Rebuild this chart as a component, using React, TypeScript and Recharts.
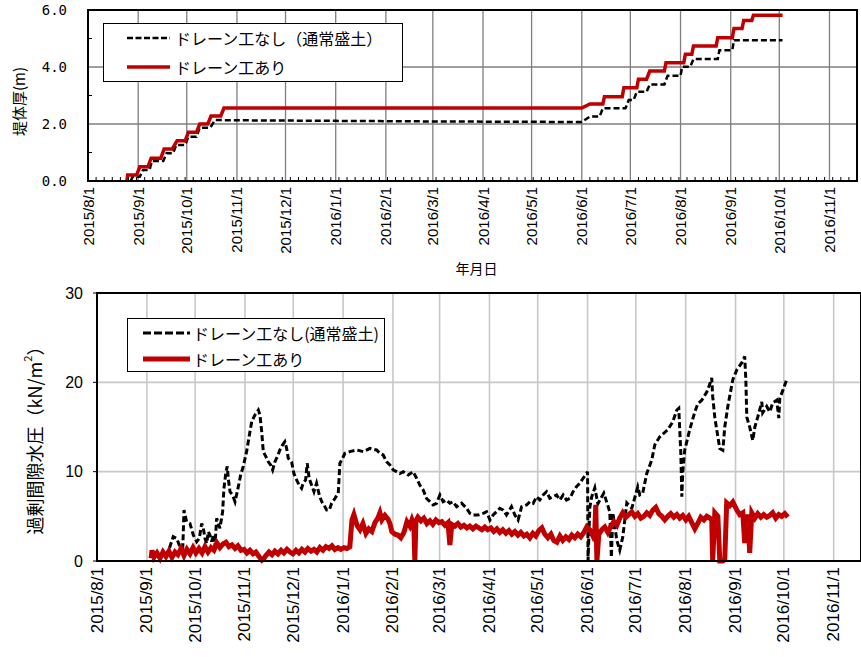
import React from "react";
import { LineChart, Line, XAxis, YAxis, CartesianGrid, Legend, ReferenceArea, Label } from "recharts";

const FONT = '"Liberation Sans", "Noto Sans CJK JP", sans-serif';
const JP = '"Noto Sans CJK JP", "Liberation Sans", sans-serif';
const MONO = '"DejaVu Sans Mono", "Liberation Mono", monospace';

// Month ticks along the date axis (labels as printed)
const monthTicks = [
  "2015/8/1", "2015/9/1", "2015/10/1", "2015/11/1", "2015/12/1", "2016/1/1", "2016/2/1", "2016/3/1",
  "2016/4/1", "2016/5/1", "2016/6/1", "2016/7/1", "2016/8/1", "2016/9/1", "2016/10/1", "2016/11/1",
];
const axisStart = "2015/8/1";
const axisEnd = "2016/11/18";
const minorStepDays = 5;

const seriesNames = ["ドレーン工なし（通常盛土）", "ドレーン工あり"];
const seriesNamesLower = ["ドレーン工なし(通常盛土)", "ドレーン工あり"];
const seriesColors = ["#000000", "#c00000"];

const thicknessTicks = [0, 2, 4, 6];
const thicknessMinorTicks = [1, 3, 5];
const pressureTicks = [0, 10, 20, 30];

// Embankment thickness (m); x = Excel serial date
const thicknessNoDrain: [number, number][] = [
  [42243.5, 0], [42244.5, 0.15], [42249, 0.15], [42251, 0.39], [42255, 0.39], [42256.5, 0.7],
  [42263.5, 0.7], [42265.5, 0.97], [42269.5, 0.97], [42271.5, 1.26], [42277, 1.26], [42279, 1.55],
  [42284, 1.55], [42286, 1.87], [42292.5, 1.87], [42295.5, 2.14], [42309, 2.13], [42370, 2.11],
  [42430, 2.09], [42522, 2.07], [42527, 2.26], [42533, 2.26], [42535, 2.55], [42549, 2.55],
  [42551, 2.84], [42554, 2.84], [42556, 3.13], [42562, 3.13], [42564, 3.39], [42573, 3.39],
  [42575, 3.69], [42583, 3.69], [42584, 4.01], [42589, 4.01], [42591, 4.28], [42606, 4.28],
  [42607, 4.59], [42615, 4.59], [42616, 4.94], [42646, 4.94],
];
const thicknessDrain: [number, number][] = [
  [42241, 0], [42241.5, 0.21], [42247, 0.21], [42249, 0.5], [42254, 0.5], [42256, 0.8],
  [42262, 0.8], [42264, 1.12], [42269, 1.12], [42272, 1.41], [42277, 1.41], [42279, 1.71],
  [42284, 1.71], [42286, 2.0], [42291, 2.0], [42293, 2.28], [42299, 2.28], [42301, 2.56],
  [42522, 2.56], [42527, 2.7], [42535, 2.7], [42536, 2.96], [42547, 2.96], [42548, 3.27],
  [42556, 3.27], [42557, 3.57], [42562, 3.57], [42564, 3.86], [42573, 3.86], [42574, 4.15],
  [42585, 4.15], [42586, 4.45], [42590, 4.45], [42591, 4.74], [42605, 4.74], [42606, 5.03],
  [42615, 5.03], [42616, 5.35], [42621, 5.35], [42622, 5.63], [42627, 5.63], [42628, 5.82],
  [42646, 5.82],
];

// Excess pore water pressure (kN/m2); x = Excel serial date
const pressureNoDrain: [number, number][] = [
  [42259.3, 0.6], [42261.3, 1.04], [42264.4, 2.72], [42266.5, 2.54], [42268.6, 1.6], [42270.3, 1.42],
  [42271.1, 5.7], [42272.7, 4.4], [42274.8, 4.2], [42276.9, 2.9], [42279.0, 2.16], [42280.6, 2.54],
  [42282.1, 4.2], [42283.1, 3.66], [42284.1, 2.54], [42285.2, 1.98], [42286.2, 3.28], [42287.2, 2.9],
  [42288.3, 2.16], [42289.3, 2.9], [42290.3, 1.6], [42291.4, 4.78], [42293.4, 3.66], [42295.1, 5.5],
  [42295.9, 8.1], [42297.2, 10.0], [42298.0, 10.6], [42298.6, 9.26], [42299.7, 7.76], [42301.3, 7.39],
  [42302.8, 6.64], [42304.2, 7.76], [42305.3, 8.7], [42306.3, 9.63], [42307.9, 10.56], [42310.0, 12.24],
  [42312.1, 14.48], [42313.2, 15.6], [42315.2, 16.35], [42317.3, 16.9], [42318.3, 16.35], [42319.4, 14.48],
  [42320.4, 12.24], [42322.0, 11.68], [42323.5, 11.1], [42325.0, 10.75], [42326.2, 10.19], [42327.6, 11.1],
  [42329.1, 11.68], [42330.7, 12.43], [42332.4, 13.0], [42333.8, 13.36], [42334.9, 12.6], [42335.9, 11.5],
  [42338.0, 11.1], [42339.4, 9.8], [42341.1, 9.07], [42342.7, 8.5], [42344.2, 8.14], [42345.2, 8.7],
  [42346.7, 9.07], [42347.7, 10.94], [42348.9, 9.26], [42350.4, 8.5], [42351.9, 7.76], [42353.5, 8.7],
  [42355.2, 7.39], [42356.7, 6.64], [42358.1, 6.27], [42359.8, 5.7], [42361.4, 5.7], [42362.9, 6.46],
  [42364.9, 7.0], [42367.0, 7.6], [42368.0, 10.94], [42369.7, 11.5], [42371.1, 12.06], [42374.2, 12.24],
  [42378.4, 12.43], [42382.5, 12.24], [42386.7, 12.6], [42390.8, 12.43], [42392.9, 12.06], [42394.9, 11.87],
  [42397.1, 11.1], [42399.1, 10.75], [42401.2, 10.19], [42403.3, 10.0], [42405.3, 9.8], [42407.4, 10.0],
  [42410.5, 9.63], [42413.6, 10.0], [42415.7, 9.26], [42417.7, 8.5], [42419.8, 7.95], [42421.9, 7.0],
  [42424.0, 6.64], [42426.0, 6.27], [42428.1, 6.46], [42430.2, 7.39], [42432.2, 6.64], [42434.3, 6.83],
  [42436.4, 6.46], [42438.4, 6.64], [42440.6, 6.08], [42443.7, 6.46], [42446.8, 5.9], [42448.8, 5.34],
  [42450.9, 5.15], [42454.0, 5.15], [42457.1, 5.34], [42459.2, 5.52], [42461.3, 4.59], [42463.3, 5.15],
  [42465.4, 5.52], [42467.5, 5.9], [42469.5, 5.7], [42471.6, 5.15], [42474.7, 6.08], [42476.8, 5.15],
  [42478.8, 4.59], [42481.0, 6.08], [42484.1, 6.27], [42486.1, 6.64], [42488.2, 6.46], [42490.3, 7.2],
  [42492.3, 6.83], [42494.4, 7.39], [42496.5, 7.76], [42498.5, 7.02], [42500.6, 7.2], [42502.7, 7.39],
  [42504.8, 6.83], [42506.8, 7.39], [42508.9, 6.83], [42511.0, 7.02], [42513.0, 7.76], [42515.1, 8.32],
  [42517.2, 8.7], [42519.2, 9.26], [42521.4, 9.8], [42522.0, 10.0], [42522.3, 0.0], [42523.4, 6.0],
  [42524.6, 7.2], [42526.5, 8.2], [42528.4, 6.4], [42529.6, 6.8], [42532.1, 7.6], [42534.6, 6.2],
  [42535.8, 5.5], [42536.8, 0.4], [42537.7, 5.4], [42540.2, 2.3], [42542.0, 1.2], [42543.9, 2.7],
  [42546.4, 6.5], [42549.5, 5.9], [42553.2, 8.3], [42554.5, 7.4], [42556.3, 7.6], [42558.8, 9.8],
  [42561.9, 11.3], [42563.8, 13.0], [42566.9, 13.9], [42569.4, 14.3], [42571.9, 14.7], [42575.0, 15.6],
  [42577.5, 16.9], [42578.7, 17.1], [42580.0, 12.0], [42580.6, 7.2], [42581.2, 10.0], [42582.4, 12.4],
  [42585.5, 14.7], [42588.7, 16.7], [42590.5, 17.6], [42593.0, 18.0], [42596.1, 18.9], [42598.0, 19.8],
  [42599.2, 20.5], [42599.8, 18.4], [42601.1, 16.1], [42602.3, 14.7], [42604.2, 12.6], [42606.1, 12.4],
  [42607.3, 15.0], [42609.2, 17.3], [42612.3, 20.3], [42614.8, 21.4], [42617.9, 22.2], [42619.7, 22.9],
  [42620.4, 20.3], [42621.0, 16.1], [42622.8, 15.0], [42624.7, 13.5], [42626.0, 15.0], [42627.8, 16.1],
  [42630.3, 17.8], [42630.9, 16.6], [42633.4, 17.3], [42635.3, 16.7], [42637.1, 17.7], [42639.6, 18.0],
  [42640.9, 16.0], [42641.5, 18.2], [42643.4, 19.1], [42645.8, 20.3],
];
const pressureDrain: [number, number][] = [
  [42250.6, 0.3], [42251.2, 1.2], [42252.4, 0.4], [42254.3, 0.9], [42256.2, 0.3], [42258.0, 1.0],
  [42259.9, 0.5], [42261.7, 1.1], [42263.6, 0.4], [42265.5, 1.0], [42267.3, 0.7], [42269.2, 1.4],
  [42271.1, 0.6], [42272.9, 1.3], [42274.8, 0.8], [42276.7, 1.5], [42278.5, 0.9], [42280.4, 1.4],
  [42282.3, 0.9], [42284.1, 1.6], [42286.0, 1.0], [42287.9, 1.5], [42289.7, 1.2], [42291.6, 2.0],
  [42293.4, 1.5], [42295.3, 1.9], [42297.2, 2.1], [42299.0, 1.6], [42300.9, 1.8], [42302.8, 1.4],
  [42304.6, 1.7], [42306.5, 1.2], [42308.4, 1.3], [42310.2, 0.9], [42312.1, 1.2], [42314.0, 0.8],
  [42315.8, 1.0], [42317.7, 0.5], [42319.5, 0.1], [42320.8, 0.3], [42322.0, 0.6], [42323.9, 1.0],
  [42325.8, 0.7], [42327.6, 1.1], [42329.5, 0.8], [42331.4, 1.2], [42333.2, 0.9], [42335.1, 1.3],
  [42337.0, 1.0], [42338.8, 0.8], [42340.7, 1.2], [42342.5, 0.9], [42344.4, 1.3], [42346.3, 1.0],
  [42348.1, 1.4], [42350.0, 1.1], [42351.9, 1.3], [42353.7, 1.0], [42355.6, 1.5], [42357.5, 1.2],
  [42359.3, 1.6], [42361.2, 1.4], [42363.1, 1.7], [42364.9, 1.3], [42366.8, 1.5], [42368.6, 1.3],
  [42370.5, 1.5], [42372.4, 1.4], [42374.2, 1.6], [42375.5, 4.6], [42376.7, 5.2], [42378.6, 4.0],
  [42380.5, 3.5], [42382.3, 4.2], [42384.2, 3.1], [42386.0, 3.6], [42387.9, 3.3], [42389.8, 4.3],
  [42391.6, 4.8], [42392.9, 5.4], [42394.1, 4.6], [42396.0, 5.1], [42397.9, 4.7], [42399.1, 4.2],
  [42400.3, 3.3], [42402.2, 3.0], [42404.1, 2.9], [42405.9, 2.6], [42407.8, 3.2], [42409.7, 4.4],
  [42411.5, 3.9], [42412.8, 4.6], [42414.0, 4.0], [42414.6, 0.0], [42415.3, 4.5], [42416.5, 4.9],
  [42418.4, 4.5], [42420.2, 4.8], [42422.1, 4.2], [42424.0, 4.5], [42425.8, 4.1], [42427.7, 4.6],
  [42429.6, 4.3], [42431.4, 4.4], [42433.3, 4.0], [42435.2, 4.3], [42436.4, 1.8], [42437.6, 4.1],
  [42439.5, 3.9], [42441.4, 4.2], [42443.2, 3.8], [42445.1, 4.0], [42447.0, 3.7], [42448.8, 3.9],
  [42450.7, 3.6], [42452.6, 3.9], [42454.4, 3.7], [42456.3, 3.5], [42458.1, 3.8], [42460.0, 3.5],
  [42461.9, 3.7], [42463.7, 3.3], [42465.6, 3.6], [42467.5, 3.2], [42469.3, 3.5], [42471.2, 3.1],
  [42473.1, 3.4], [42474.9, 3.0], [42476.8, 3.3], [42478.7, 2.9], [42480.5, 3.2], [42482.4, 2.8],
  [42484.2, 3.0], [42486.1, 2.6], [42488.0, 3.1], [42489.8, 2.8], [42491.7, 3.4], [42493.6, 3.7],
  [42495.4, 3.0], [42497.3, 2.6], [42499.2, 3.0], [42501.0, 2.3], [42502.9, 2.1], [42504.8, 2.8],
  [42506.6, 2.3], [42508.5, 2.7], [42510.4, 2.4], [42512.2, 2.9], [42514.1, 2.6], [42515.9, 3.0],
  [42517.8, 2.7], [42519.7, 3.2], [42521.5, 3.8], [42523.4, 3.5], [42525.3, 2.8], [42526.5, 3.4],
  [42527.1, 6.3], [42527.8, 0.0], [42529.0, 3.0], [42530.9, 3.5], [42532.7, 3.8], [42534.6, 3.2],
  [42536.5, 3.9], [42538.3, 4.4], [42540.2, 4.0], [42542.0, 4.8], [42543.9, 5.4], [42545.8, 4.9],
  [42547.6, 5.2], [42549.5, 5.5], [42551.4, 5.0], [42553.2, 5.3], [42555.1, 4.8], [42557.0, 5.0],
  [42558.8, 5.4], [42560.7, 5.1], [42562.6, 5.7], [42564.4, 6.0], [42566.3, 5.3], [42568.2, 5.0],
  [42570.0, 4.6], [42571.9, 5.0], [42573.7, 5.3], [42575.6, 4.9], [42577.5, 5.2], [42579.3, 4.8],
  [42581.2, 5.1], [42583.1, 4.6], [42584.9, 5.0], [42586.8, 4.3], [42588.7, 3.6], [42590.5, 4.2],
  [42592.4, 4.9], [42594.3, 4.6], [42596.1, 5.0], [42598.0, 4.8], [42599.2, 4.6], [42599.8, 0.0],
  [42601.1, 5.4], [42603.0, 5.0], [42604.2, 0.0], [42606.1, 0.0], [42607.3, 0.2], [42608.5, 6.5],
  [42610.4, 6.2], [42612.3, 6.6], [42614.8, 5.7], [42616.6, 5.2], [42618.5, 5.4], [42619.7, 2.0],
  [42621.0, 5.2], [42622.2, 3.0], [42622.8, 0.9], [42624.1, 5.4], [42626.0, 4.8], [42627.8, 5.3],
  [42629.7, 4.9], [42631.5, 5.2], [42633.4, 4.9], [42635.3, 5.1], [42637.1, 5.4], [42639.0, 4.8],
  [42640.9, 5.2], [42642.7, 5.0], [42644.6, 5.3], [42646.5, 4.9],
];

// Date helpers (Excel 1900 date system)
const toSerial = (s: string) => {
  const [y, m, d] = s.split("/").map(Number);
  return Date.UTC(y, m - 1, d) / 86400000 + 25569;
};
const serialToLabel = (serial: number) => {
  const dt = new Date(Math.round(serial - 25569) * 86400000);
  return `${dt.getUTCFullYear()}/${dt.getUTCMonth() + 1}/${dt.getUTCDate()}`;
};
const toPoints = (rows: [number, number][]) => rows.map(([t, v]) => ({ t, v }));

const xMin = toSerial(axisStart);
const xMax = toSerial(axisEnd);
const xTicks = monthTicks.map(toSerial);
const monthSet = new Set(xTicks);
const minorXTicks: number[] = [];
for (let t = xMin; t <= xMax; t += minorStepDays) if (!monthSet.has(t)) minorXTicks.push(t);
const topXTicks = [...xTicks, ...minorXTicks].sort((a, b) => a - b);
const topYTicks = [...thicknessTicks, ...thicknessMinorTicks].sort((a, b) => a - b);

// Rotated month labels; on the upper chart, minor ticks are short inward marks
const makeDateTick = (fontSize: number, margin: number) => (props: any) => {
  const { x, y, payload } = props;
  if (!monthSet.has(payload.value)) {
    return <line x1={x} x2={x} y1={y - margin} y2={y - margin - 4} stroke="#000" strokeWidth={1} />;
  }
  return (
    <text
      x={x}
      y={y}
      transform={`rotate(-90 ${x} ${y})`}
      textAnchor="end"
      dominantBaseline="central"
      fontSize={fontSize}
      fontFamily={FONT}
      fill="#000"
    >
      {serialToLabel(payload.value)}
    </text>
  );
};

const ThicknessTick = (props: any) => {
  const { x, y, payload } = props;
  if (!thicknessTicks.includes(payload.value)) {
    return <line x1={x + 21} x2={x + 25} y1={y} y2={y} stroke="#000" strokeWidth={1} />;
  }
  return (
    <text x={x} y={y} textAnchor="end" dominantBaseline="central" fontSize={14} fontFamily={MONO} fill="#000">
      {payload.value.toFixed(1)}
    </text>
  );
};

type LegendCfg = {
  width: number;
  height: number;
  rows: number[];
  lineX: number;
  lineLen: number;
  textX: number;
  fontSize: number;
  dashes: (string | undefined)[];
  widths: number[];
  names: string[];
};

const makeLegend = (cfg: LegendCfg) => (props: any) => {
  const payload: any[] = props.payload || [];
  return (
    <div
      style={{
        width: cfg.width,
        height: cfg.height,
        border: "1px solid #000",
        background: "#fff",
        boxSizing: "border-box",
      }}
    >
      <svg width={cfg.width - 2} height={cfg.height - 2} style={{ display: "block" }}>
        {cfg.names.map((name, i) => {
          const entry = payload.find((p) => p.value === name);
          const color = entry?.color ?? seriesColors[i];
          return (
            <g key={name}>
              <line
                x1={cfg.lineX}
                x2={cfg.lineX + cfg.lineLen}
                y1={cfg.rows[i]}
                y2={cfg.rows[i]}
                stroke={color}
                strokeWidth={cfg.widths[i]}
                strokeDasharray={cfg.dashes[i]}
              />
              <text
                x={cfg.textX}
                y={cfg.rows[i]}
                dominantBaseline="central"
                fontSize={cfg.fontSize}
                fontFamily={JP}
                fill="#000"
              >
                {name}
              </text>
            </g>
          );
        })}
      </svg>
    </div>
  );
};

const topLegend = makeLegend({
  width: 300,
  height: 59,
  rows: [14, 43],
  lineX: 23,
  lineLen: 43,
  textX: 71,
  fontSize: 16,
  dashes: ["6 2.5", undefined],
  widths: [2.5, 3.5],
  names: seriesNames,
});

const bottomLegend = makeLegend({
  width: 258,
  height: 54,
  rows: [14, 40],
  lineX: 15,
  lineLen: 47,
  textX: 65,
  fontSize: 16,
  dashes: ["8 3", undefined],
  widths: [3, 5],
  names: seriesNamesLower,
});

const TopYLabel = (props: any) => {
  const vb = props.viewBox;
  const cx = vb.x + 18.5;
  const cy = vb.y + vb.height / 2 + 6;
  return (
    <text
      x={cx}
      y={cy}
      transform={`rotate(-90 ${cx} ${cy})`}
      textAnchor="middle"
      dominantBaseline="central"
      fontSize={15}
      fontFamily={JP}
      fill="#000"
    >
      堤体厚(m)
    </text>
  );
};

const TopXLabel = (props: any) => {
  const vb = props.viewBox;
  return (
    <text
      x={vb.x + vb.width / 2 + 4}
      y={vb.y + 87}
      textAnchor="middle"
      dominantBaseline="central"
      fontSize={14}
      fontFamily={JP}
      fill="#000"
    >
      年月日
    </text>
  );
};

const BottomYLabel = (props: any) => {
  const vb = props.viewBox;
  const cx = vb.x + 34;
  const cy = vb.y + vb.height / 2 + 9;
  return (
    <text
      x={cx}
      y={cy}
      transform={`rotate(-90 ${cx} ${cy})`}
      textAnchor="middle"
      dominantBaseline="central"
      fontSize={18}
      fontFamily={JP}
      fill="#000"
    >
      過剰間隙水圧（kN/m
      <tspan fontSize={11} dy={-7}>2</tspan>
      <tspan dy={7}>）</tspan>
    </text>
  );
};

export default function App() {
  return (
    <div style={{ position: "absolute", left: 0, top: 0, width: 861, height: 657, background: "#fff", overflow: "hidden" }}>
      <div style={{ position: "absolute", left: 0, top: 0 }}>
        <LineChart width={861} height={280} margin={{ top: 10, right: 4, bottom: 0, left: 0 }}>
          <CartesianGrid stroke="#7f7f7f" strokeWidth={1.3} verticalValues={xTicks} horizontalValues={thicknessTicks} />
          <XAxis
            dataKey="t"
            type="number"
            domain={[xMin, xMax]}
            ticks={topXTicks}
            allowDataOverflow
            height={99}
            tickLine={false}
            tickSize={0}
            tickMargin={6}
            axisLine={{ stroke: "#000", strokeWidth: 2 }}
            tick={makeDateTick(15, 6)}
            interval={0}
          >
            <Label content={TopXLabel} />
          </XAxis>
          <YAxis
            type="number"
            domain={[0, 6]}
            ticks={topYTicks}
            width={88}
            tickLine={false}
            tickSize={0}
            tickMargin={21}
            axisLine={{ stroke: "#000", strokeWidth: 2 }}
            tick={ThicknessTick}
            interval={0}
          >
            <Label content={TopYLabel} />
          </YAxis>
          <ReferenceArea x1={xMin} x2={xMax} y1={0} y2={6} fill="none" stroke="#000" strokeWidth={2} ifOverflow="visible" />
          <Legend
            layout="vertical"
            align="center"
            verticalAlign="middle"
            wrapperStyle={{ left: 103, top: 23, width: 300 }}
            content={topLegend}
          />
          <Line
            data={toPoints(thicknessNoDrain)}
            dataKey="v"
            name={seriesNames[0]}
            type="linear"
            stroke={seriesColors[0]}
            strokeWidth={2.5}
            strokeDasharray="6 3"
            dot={false}
            activeDot={false}
            isAnimationActive={false}
          />
          <Line
            data={toPoints(thicknessDrain)}
            dataKey="v"
            name={seriesNames[1]}
            type="linear"
            stroke={seriesColors[1]}
            strokeWidth={3.5}
            dot={false}
            activeDot={false}
            isAnimationActive={false}
          />
        </LineChart>
      </div>
      <div style={{ position: "absolute", left: 0, top: 280 }}>
        <LineChart width={861} height={377} margin={{ top: 13, right: 0, bottom: 0, left: 0 }}>
          <CartesianGrid stroke="#c8c8c8" strokeWidth={1.6} />
          <XAxis
            dataKey="t"
            type="number"
            domain={[xMin, xMax]}
            ticks={xTicks}
            allowDataOverflow
            height={96}
            tickLine={false}
            tickSize={0}
            tickMargin={6}
            axisLine={{ stroke: "#000", strokeWidth: 2 }}
            tick={makeDateTick(17, 6)}
            interval={0}
          />
          <YAxis
            type="number"
            domain={[0, 30]}
            ticks={pressureTicks}
            width={97}
            tickSize={4}
            tickMargin={10}
            tickLine={{ stroke: "#000", strokeWidth: 1 }}
            axisLine={{ stroke: "#000", strokeWidth: 2 }}
            tick={{ fontSize: 16, fontFamily: FONT, fill: "#000" }}
            interval={0}
          >
            <Label content={BottomYLabel} />
          </YAxis>
          <ReferenceArea x1={xMin} x2={xMax} y1={0} y2={30} fill="none" stroke="#000" strokeWidth={2} ifOverflow="visible" />
          <Legend
            layout="vertical"
            align="center"
            verticalAlign="middle"
            wrapperStyle={{ left: 127, top: 38, width: 258 }}
            content={bottomLegend}
          />
          <Line
            data={toPoints(pressureNoDrain)}
            dataKey="v"
            name={seriesNamesLower[0]}
            type="linear"
            stroke={seriesColors[0]}
            strokeWidth={3}
            strokeDasharray="6 3"
            dot={false}
            activeDot={false}
            isAnimationActive={false}
          />
          <Line
            data={toPoints(pressureDrain)}
            dataKey="v"
            name={seriesNamesLower[1]}
            type="linear"
            stroke={seriesColors[1]}
            strokeWidth={5}
            dot={false}
            activeDot={false}
            isAnimationActive={false}
          />
        </LineChart>
      </div>
    </div>
  );
}
